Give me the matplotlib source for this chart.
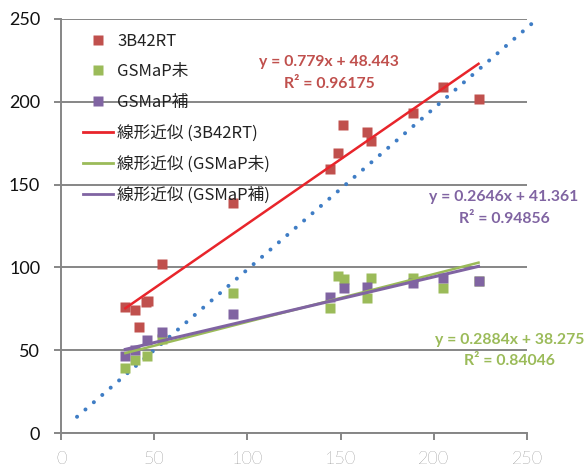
import matplotlib
matplotlib.use('Agg')
import matplotlib.pyplot as plt
from matplotlib.lines import Line2D
import numpy as np

plt.rcParams['font.family'] = ['Lato', 'Noto Sans CJK JP', 'DejaVu Sans']

# observed (x) vs estimated (y) values
rt_x = [34.5, 39.7, 42.0, 45.6, 46.5, 54.0, 92.5, 144.3, 148.4, 151.5, 164.0, 166.5, 188.7, 205.0, 224.0]
rt_y = [76.0, 74.5, 64.0, 79.0, 80.0, 102.0, 139.0, 159.5, 169.0, 186.0, 181.6, 176.5, 193.5, 209.0, 201.5]

gsm_x = [34.5, 39.7, 46.0, 54.0, 92.5, 144.3, 148.8, 151.8, 164.0, 166.3, 189.0, 205.0, 224.0]
gsm_y = [39.5, 44.0, 46.5, 57.0, 84.4, 75.7, 95.0, 93.0, 81.7, 93.4, 93.4, 87.7, 92.0]

gsmc_x = [34.5, 39.7, 46.0, 54.0, 92.5, 144.3, 151.8, 164.0, 189.0, 205.0, 224.0]
gsmc_y = [46.5, 50.0, 56.0, 61.0, 72.0, 82.3, 87.4, 88.3, 90.4, 93.4, 91.8]

# trend line coefficients (slope, intercept, R2) as shown
fit_rt = (0.779, 48.443, 0.96175)
fit_gsm = (0.2884, 38.275, 0.84046)
fit_gsmc = (0.2646, 41.361, 0.94856)

ref_x = [8.6, 253.0]
ref_y = [9.8, 247.6]

c_rt, c_gsm, c_gsmc = '#C0504D', '#9BBB59', '#8064A2'
c_rt_line = '#E8252B'
c_ref = '#3F7DC5'
grid_c = '#868686'

fig = plt.figure(figsize=(5.88, 4.69), dpi=100)
ax = fig.add_axes([61/588, 36/469, 466/588, 414/469])

ax.set_xlim(0, 250)
ax.set_ylim(0, 250)
ax.set_xticks([0, 50, 100, 150, 200, 250])
ax.set_yticks([0, 50, 100, 150, 200, 250])
ax.yaxis.grid(True, color=grid_c, lw=1.4)
ax.set_axisbelow(True)
for s in ['top', 'right']:
    ax.spines[s].set_visible(False)
for s in ['left', 'bottom']:
    ax.spines[s].set_color(grid_c)
    ax.spines[s].set_linewidth(1.4)
ax.tick_params(axis='both', direction='out', length=5, width=1.4, color=grid_c)
ax.tick_params(axis='y', labelsize=13, pad=10, labelcolor='#111111')
ax.tick_params(axis='x', labelsize=13, pad=8, labelcolor='#444444')
for lb in ax.get_xticklabels():
    lb.set_fontweight('light')

# 1:1 reference line
ax.plot(ref_x, ref_y, color=c_ref, lw=2.9, linestyle=(0, (0.01, 2.75)),
        dash_capstyle='round', clip_on=False, zorder=2)

# scatter points
ax.plot(rt_x, rt_y, 's', color=c_rt, ms=7.2, mec='none', zorder=3)
ax.plot(gsm_x, gsm_y, 's', color=c_gsm, ms=7.2, mec='none', zorder=3)
ax.plot(gsmc_x, gsmc_y, 's', color=c_gsmc, ms=7.2, mec='none', zorder=3)

# trend lines
def trend(xs, fit, color, lw):
    xx = np.array([min(xs), max(xs)])
    ax.plot(xx, fit[0] * xx + fit[1], color=color, lw=lw, zorder=4)

trend(rt_x, fit_rt, c_rt_line, 1.8)
trend(gsm_x, fit_gsm, c_gsm, 1.8)
trend(gsmc_x, fit_gsmc, c_gsmc, 2.2)

# equations
def eq(x, y, fit, color):
    ax.text(x, y, 'y = %gx + %g' % (fit[0], fit[1]), color=color, fontsize=11.3,
            fontweight='bold', ha='center', va='center', clip_on=False)
    ax.text(x, y - 13, 'R² = %g' % fit[2], color=color, fontsize=11.3,
            fontweight='bold', ha='center', va='center', clip_on=False)

eq(143.8, 224, fit_rt, c_rt)
eq(237.7, 142.5, fit_gsmc, c_gsmc)
eq(240.5, 56.2, fit_gsm, c_gsm)

handles = [
    Line2D([], [], ls='none', marker='s', color=c_rt, ms=7.2, mec='none'),
    Line2D([], [], ls='none', marker='s', color=c_gsm, ms=7.2, mec='none'),
    Line2D([], [], ls='none', marker='s', color=c_gsmc, ms=7.2, mec='none'),
    Line2D([], [], color=c_rt_line, lw=2),
    Line2D([], [], color=c_gsm, lw=2),
    Line2D([], [], color=c_gsmc, lw=2),
]
labels = ['3B42RT', 'GSMaP未', 'GSMaP補',
          '線形近似 (3B42RT)', '線形近似 (GSMaP未)', '線形近似 (GSMaP補)']
leg = ax.legend(handles, labels, loc='upper left', bbox_to_anchor=(0.047, 0.967),
                frameon=False, borderpad=0, borderaxespad=0, handlelength=1.8,
                handletextpad=0.25, labelspacing=0.82,
                prop={'family': ['Noto Sans CJK JP', 'DejaVu Sans'], 'size': 12})
for t in leg.get_texts():
    t.set_color('#222222')

fig.savefig('out.png', dpi=100)
